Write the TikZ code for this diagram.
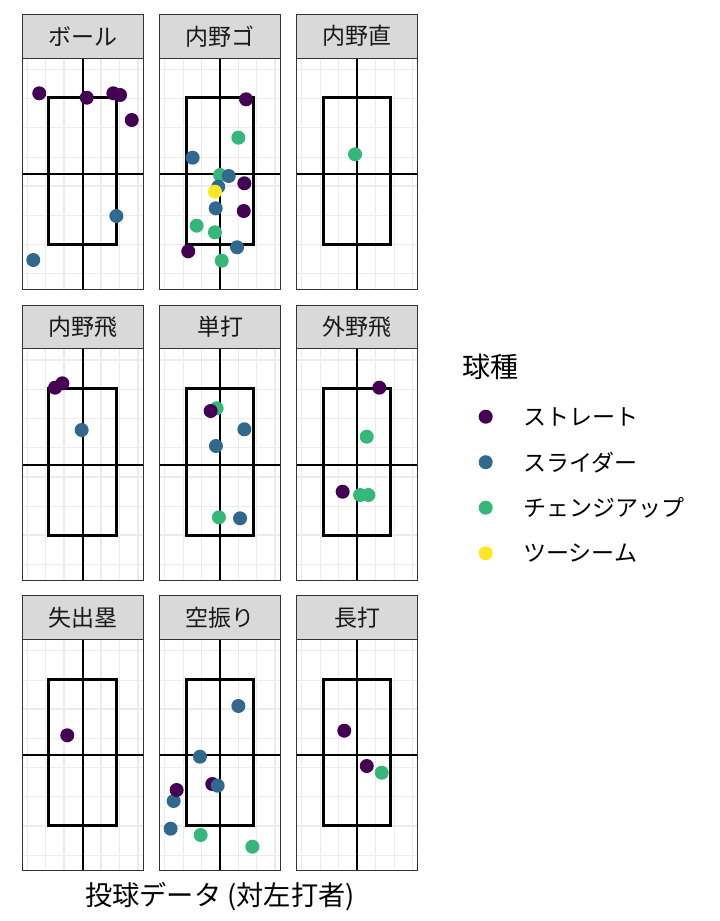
\documentclass[tikz,border=0pt]{standalone}
\usepackage{fontspec}
\setmainfont{Noto Sans CJK JP}
\usetikzlibrary{positioning}

\definecolor{straight}{HTML}{440154}
\definecolor{slider}{HTML}{31688E}
\definecolor{changeup}{HTML}{35B779}
\definecolor{twoseam}{HTML}{FDE725}
\definecolor{stripgray}{gray}{0.85}
\definecolor{framegray}{gray}{0.2}
\definecolor{gridgray}{gray}{0.92}

\begin{document}
\begin{tikzpicture}
	[   x=1pt,y=-1pt,
	    minor grid/.style={draw=gridgray,line width=0.75pt},
	    major grid/.style={draw=gridgray,line width=1.5pt},
	    cross line/.style={draw=black,line width=1.9pt},
	    zone box/.style={draw=black,line width=3pt},
	    frame/.style={draw=framegray,line width=1pt},
	    key dot/.style={circle,fill=#1,inner sep=0pt,outer sep=0pt,minimum size=14pt},
	]
	\tikzset{small text/.style={inner sep=0pt,outer sep=0pt,font=\fontsize{23}{27}\selectfont},
	         big text/.style={inner sep=0pt,outer sep=0pt,font=\fontsize{28}{33}\selectfont}}
	\useasboundingbox (0,0) rectangle (720,921);
	\fill[white] (0,0) rectangle (720,921);
	
	\foreach \lab/\col/\row/\pts in {
		ボール/0/0/{straight/-43.4/-80.7, straight/4.1/-76.3, straight/30.7/-80.7, straight/37.4/-79, straight/49.1/-54, slider/33.7/42, slider/-49.4/86},
		内野ゴ/1/0/{changeup/18.5/-36.3, changeup/0.2/1, changeup/-23.2/51.7, changeup/-4.9/58.3, changeup/1.9/86.7, slider/-27.2/-16.3, slider/8.9/2, slider/-1.6/12.7, slider/-4.2/34.3, slider/17.2/73.3, twoseam/-4.9/17.7, straight/26.2/-74.7, straight/24.5/9.3, straight/23.9/37, straight/-31.6/77.3},
		内野直/2/0/{changeup/-2/-19.7},
		内野飛/0/1/{straight/-20.3/-81.4, straight/-27.6/-77, slider/-1/-34.7},
		単打/1/1/{changeup/-3.2/-56.4, straight/-9.2/-53.7, slider/24.5/-35.4, slider/-3.9/-18.7, changeup/-0.9/52.6, slider/20.2/53.6},
		外野飛/2/1/{straight/22.3/-77, changeup/9.7/-28, straight/-14.4/27, changeup/3/30.3, changeup/11.3/30.3},
		失出塁/0/2/{straight/-15.4/-20.1},
		空振り/1/2/{slider/18.5/-49.4, slider/-19.9/1.3, straight/-7.6/28.6, slider/-2.2/30.3, slider/-46.2/45.6, straight/-43.2/34.6, slider/-49.2/73.3, changeup/-19.2/79.6, changeup/32.5/91.3},
		長打/2/2/{straight/-12.8/-24.7, straight/9.7/10.6, changeup/24.7/17.3}}
	{
		\begin{scope}[shift={({82.65+137.2*\col},{174+290.7*\row})}]
			\fill[white] (-60.4,-116) rectangle (60.8,115.3);
			\foreach \gx in {-36.9,0,36.9} \path[minor grid] (\gx,-116) -- (\gx,115.3);
			\foreach \gy in {-75.5,-17.1,41.3,99.7} \path[minor grid] (-60.4,\gy) -- (60.8,\gy);
			\foreach \gx in {-55.35,-18.45,18.45,55.35} \path[major grid] (\gx,-116) -- (\gx,115.3);
			\foreach \gy in {-104.7,-46.3,12.1,70.5} \path[major grid] (-60.4,\gy) -- (60.8,\gy);
			\path[cross line] (0,-116) -- (0,115.3);
			\path[cross line] (-60.4,0) -- (60.8,0);
			\path[zone box] (-33.7,-76.3) rectangle (33.7,70.3);
			\foreach \c/\px/\py in \pts
				\fill[\c] (\px,\py) circle[radius=7pt];
			\path[frame] (-60.4,-116) rectangle (60.8,115.3);
			\path[frame,fill=stripgray] (-60.4,-159.7) rectangle (60.8,-116);
			\node[small text,text=black!90] (strip-\col-\row) at (0.2,-137.85) {\lab};
		\end{scope}
	}
	
	% legend
	\node[big text,anchor=west] (legend-title) at (462,366.5) {球種};
	\foreach \c/\name [count=\i] in {straight/ストレート, slider/スライダー, changeup/チェンジアップ, twoseam/ツーシーム}
	{
		\node[key dot=\c] (key-\i) at (485.7,{416.7+45.5*(\i-1)}) {};
		\node[small text,right=30.6pt of key-\i] (name-\i) {\name};
	}
	
	\node[big text,font=\fontsize{27.2}{32}\selectfont] (x-title) at (220,896.5) {投球データ (対左打者)};
\end{tikzpicture}
\end{document}
